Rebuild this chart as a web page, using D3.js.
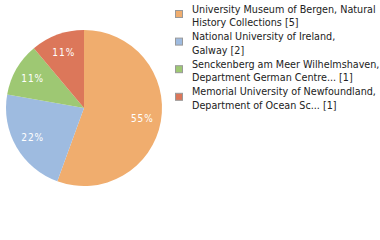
<!DOCTYPE html>
<html>
<head>
<meta charset="utf-8">
<script src="https://cdn.jsdelivr.net/npm/d3@7"></script>
<style>
  body { margin: 0; background: #fff; }
  svg { display: block; }
</style>
</head>
<body>
<script>
// data
const names = [
  ["University Museum of Bergen, Natural", "History Collections [5]"],
  ["National University of Ireland,", "Galway [2]"],
  ["Senckenberg am Meer Wilhelmshaven,", "Department German Centre... [1]"],
  ["Memorial University of Newfoundland,", "Department of Ocean Sc... [1]"]
];
const counts = [5, 2, 1, 1];
const colors = ["#f0ad6e", "#9ebbe0", "#9ec873", "#dc775a"];

const width = 380, height = 240;
const cx = 84, cy = 108, radius = 78;

let svg = d3.select("body")
  .append("svg")
  .attr("width", width)
  .attr("height", height);

let total = d3.sum(counts);

let pie = d3.pie().sort(null).value(d => d);
let arcs = pie(counts);

let arc = d3.arc().innerRadius(0).outerRadius(radius);
let labelArc = d3.arc().innerRadius(radius * 0.76).outerRadius(radius * 0.76);

let g = svg.append("g")
  .attr("transform", "translate(" + cx + "," + cy + ")");

g.selectAll("path")
  .data(arcs)
  .enter()
  .append("path")
  .attr("d", arc)
  .attr("fill", (d, i) => colors[i]);

g.selectAll("text")
  .data(arcs)
  .enter()
  .append("text")
  .attr("transform", d => "translate(" + labelArc.centroid(d) + ")")
  .attr("text-anchor", "middle")
  .attr("dy", "0.35em")
  .style("font-family", "'DejaVu Sans Condensed', 'DejaVu Sans', sans-serif")
  .style("font-size", "10px")
  .style("letter-spacing", "1px")
  .attr("fill", "#fff")
  .text(d => Math.floor(d.value / total * 100) + "%");

// legend
let legend = svg.append("g");
let rows = legend.selectAll("g")
  .data(names)
  .enter()
  .append("g")
  .attr("transform", (d, i) => "translate(0," + (i * 27.6) + ")");

rows.append("rect")
  .attr("x", 175.5)
  .attr("y", 10.5)
  .attr("width", 7)
  .attr("height", 7)
  .attr("fill", (d, i) => colors[i])
  .attr("stroke", "#999")
  .attr("stroke-width", 1);

rows.append("text")
  .attr("x", 192)
  .attr("y", 12.5)
  .style("font-family", "'DejaVu Sans Condensed', 'DejaVu Sans', sans-serif")
  .style("font-size", "10.7px")
  .attr("fill", "#222")
  .selectAll("tspan")
  .data(d => d)
  .enter()
  .append("tspan")
  .attr("x", 192)
  .attr("dy", (d, i) => i === 0 ? 0 : 13.5)
  .text(d => d);
</script>
</body>
</html>
